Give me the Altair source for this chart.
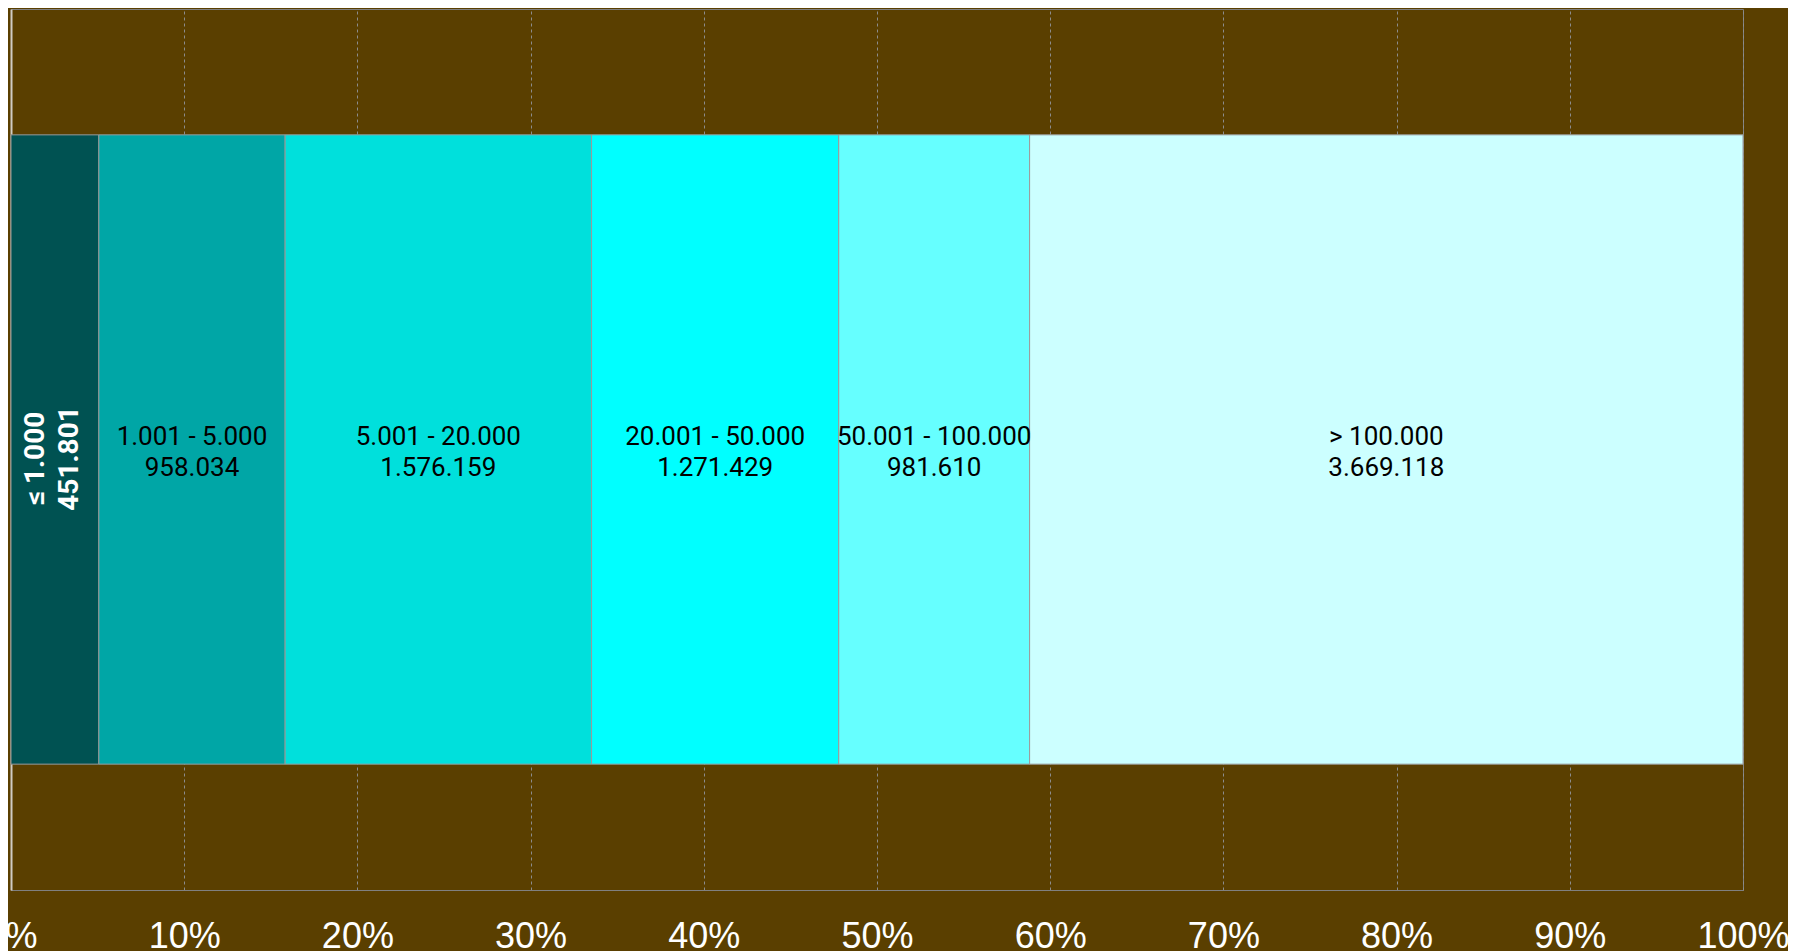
import altair as alt
import pandas as pd

categories = ["≤ 1.000", "1.001 - 5.000", "5.001 - 20.000", "20.001 - 50.000", "50.001 - 100.000", "> 100.000"]
values = [451801, 958034, 1576159, 1271429, 981610, 3669118]
colors = ["#005252", "#00A6A6", "#00E0DC", "#00FFFF", "#66FFFF", "#CCFFFF"]
tick_values = [0, 0.1, 0.2, 0.3, 0.4, 0.5, 0.6, 0.7, 0.8, 0.9, 1.0]

def fmt(v):
    return f"{v:,}".replace(",", ".")

df = pd.DataFrame({
    "idx": list(range(len(categories))),
    "cat": categories,
    "value": values,
    "row": ["all"] * len(categories),
    "label": [[c, fmt(v)] for c, v in zip(categories, values)],
})

base = alt.Chart(df).transform_stack(
    stack="value", groupby=["row"], as_=["v0", "v1"], offset="normalize",
    sort=[alt.SortField("idx", order="ascending")],
).transform_calculate(mid="(datum.v0 + datum.v1) / 2")

yenc = alt.Y("row:N", scale=alt.Scale(paddingOuter=0.2, paddingInner=0),
             axis=alt.Axis(labels=False, ticks=False, title=None, grid=False,
                           domainColor="#D0CCC4", domainWidth=2))

bars = base.mark_bar(stroke="#9A9A9A", strokeWidth=1).encode(
    x=alt.X("v0:Q", scale=alt.Scale(domain=[0, 1], nice=False, zero=False),
            axis=alt.Axis(values=tick_values, format=".0%", title=None, ticks=False,
                          labelPadding=29, labelFontSize=36, labelFont="Liberation Sans",
                          labelColor="#FFFFFF", labelFlush=False, labelOverlap=False,
                          domainColor="#808080", domainWidth=1,
                          grid=True, gridColor="#8C8C8C", gridDash=[3, 3], gridWidth=1)),
    x2="v1:Q",
    y=yenc,
    color=alt.Color("cat:N", scale=alt.Scale(domain=categories, range=colors), legend=None),
)

text_main = base.transform_filter("datum.idx > 0").mark_text(
    font="Roboto", fontSize=26, color="#000000", lineHeight=31, align="center",
    baseline="middle", dy=-13
).encode(
    x=alt.X("mid:Q"),
    y=alt.Y("row:N"),
    text="label",
)

text_first = base.transform_filter("datum.idx == 0").mark_text(
    font="Roboto", fontSize=28, fontWeight="bold", color="#FFFFFF", lineHeight=34,
    align="center", baseline="middle", angle=270, dy=-19, dx=-9
).encode(
    x=alt.X("mid:Q"),
    y=alt.Y("row:N"),
    text="label",
)

chart = alt.layer(bars, text_main, text_first).properties(
    width=1732, height=881,
    autosize=alt.AutoSizeParams(type="none"),
    padding={"left": 3, "top": 1, "right": 45, "bottom": 61},
    background="#5A3F00",
).configure_view(stroke="#808080", strokeWidth=1)

chart.save("out.html", embed_options={"renderer": "svg", "actions": False})
